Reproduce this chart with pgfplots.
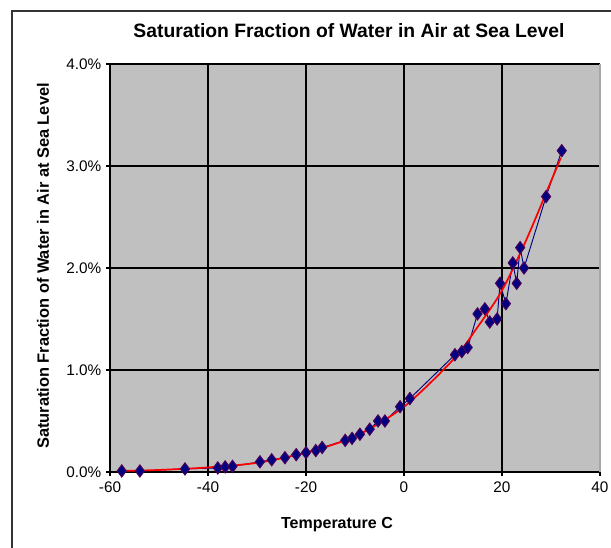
\documentclass[border=0pt]{standalone}
\usepackage{fontspec}
\setmainfont{Liberation Sans}
\usepackage{pgfplots}
\pgfplotsset{compat=1.18}
\definecolor{plotgray}{HTML}{C0C0C0}
\definecolor{navyblue}{HTML}{000080}
\begin{document}
\begin{tikzpicture}[x=0.75pt,y=0.75pt]
\useasboundingbox (0,0) rectangle (611,547);
\fill[white] (0,0) rectangle (611,547);
\draw[black!80, line width=1.2pt] (12,-10) -- (12,536) -- (620,536);
\begin{axis}[
    at={(110pt*0.75,75pt*0.75)}, anchor=south west,
    scale only axis,
    width=367.5pt, height=306pt,
    xmin=-60, xmax=40, ymin=0, ymax=4,
    xtick={-60,-40,-20,0,20,40},
    xticklabels={-60,-40,-20,0,20,40},
    extra x ticks={-40,-20,0,20},
    extra x tick labels={},
    extra x tick style={xmajorgrids=true, major tick length=0pt},
    ytick={0,1,2,3,4},
    yticklabels={0.0\%,1.0\%,2.0\%,3.0\%,4.0\%},
    axis background/.style={fill=plotgray},
    xmajorgrids=false, ymajorgrids=true,
    major grid style={black, line width=1pt},
    axis lines*=left,
    axis line style={black, line width=0.8pt},
    tick align=center,
    major tick length=6pt,
    tick style={black, line width=0.8pt},
    ticklabel style={font=\fontsize{11.5}{13}\selectfont},
    xticklabel style={yshift=-1pt},
    /pgf/number format/assume math mode=true,
    clip=false,
]
\draw[gray!70, line width=0.8pt] (axis cs:40,0) -- (axis cs:40,4);
\addplot[navyblue, line width=0.7pt, mark=diamond*, mark size=4.6pt,
    mark options={fill=navyblue, draw=navyblue!70!red}] coordinates {
    (-57.6,0.01) (-53.9,0.01) (-44.7,0.03) (-38,0.04) (-36.5,0.05)
    (-35,0.055) (-29.4,0.10) (-27,0.12) (-24.3,0.14) (-22,0.17)
    (-20,0.19) (-18,0.21) (-16.7,0.24) (-12,0.31) (-10.6,0.33)
    (-9,0.37) (-7,0.42) (-5.3,0.50) (-3.9,0.50) (-0.8,0.64)
    (1.2,0.72) (10.4,1.15) (11.8,1.18) (13,1.22) (15,1.55)
    (16.5,1.60) (17.5,1.47) (19,1.50) (19.6,1.85) (20.8,1.65)
    (22.2,2.05) (23,1.85) (23.7,2.20) (24.5,2.00) (29,2.70)
    (32.2,3.15)
};
\addplot[red, line width=1.3pt, smooth, no marks] coordinates {
    (-58,0.01) (-50,0.02) (-40,0.045) (-30,0.09) (-20,0.19)
    (-10,0.35) (0,0.64) (10,1.10) (15,1.42) (20,1.78)
    (25,2.28) (30,2.85) (32,3.08)
};
\end{axis}
\node[font=\bfseries\fontsize{14.5}{16}\selectfont] at (349,516) {Saturation Fraction of Water in Air at Sea Level};
\node[font=\bfseries\fontsize{12}{14}\selectfont] at (337,22) {Temperature C};
\node[font=\bfseries\fontsize{12.3}{14}\selectfont, rotate=90] at (43,281) {Saturation Fraction of Water in Air at Sea Level};
\end{tikzpicture}
\end{document}
